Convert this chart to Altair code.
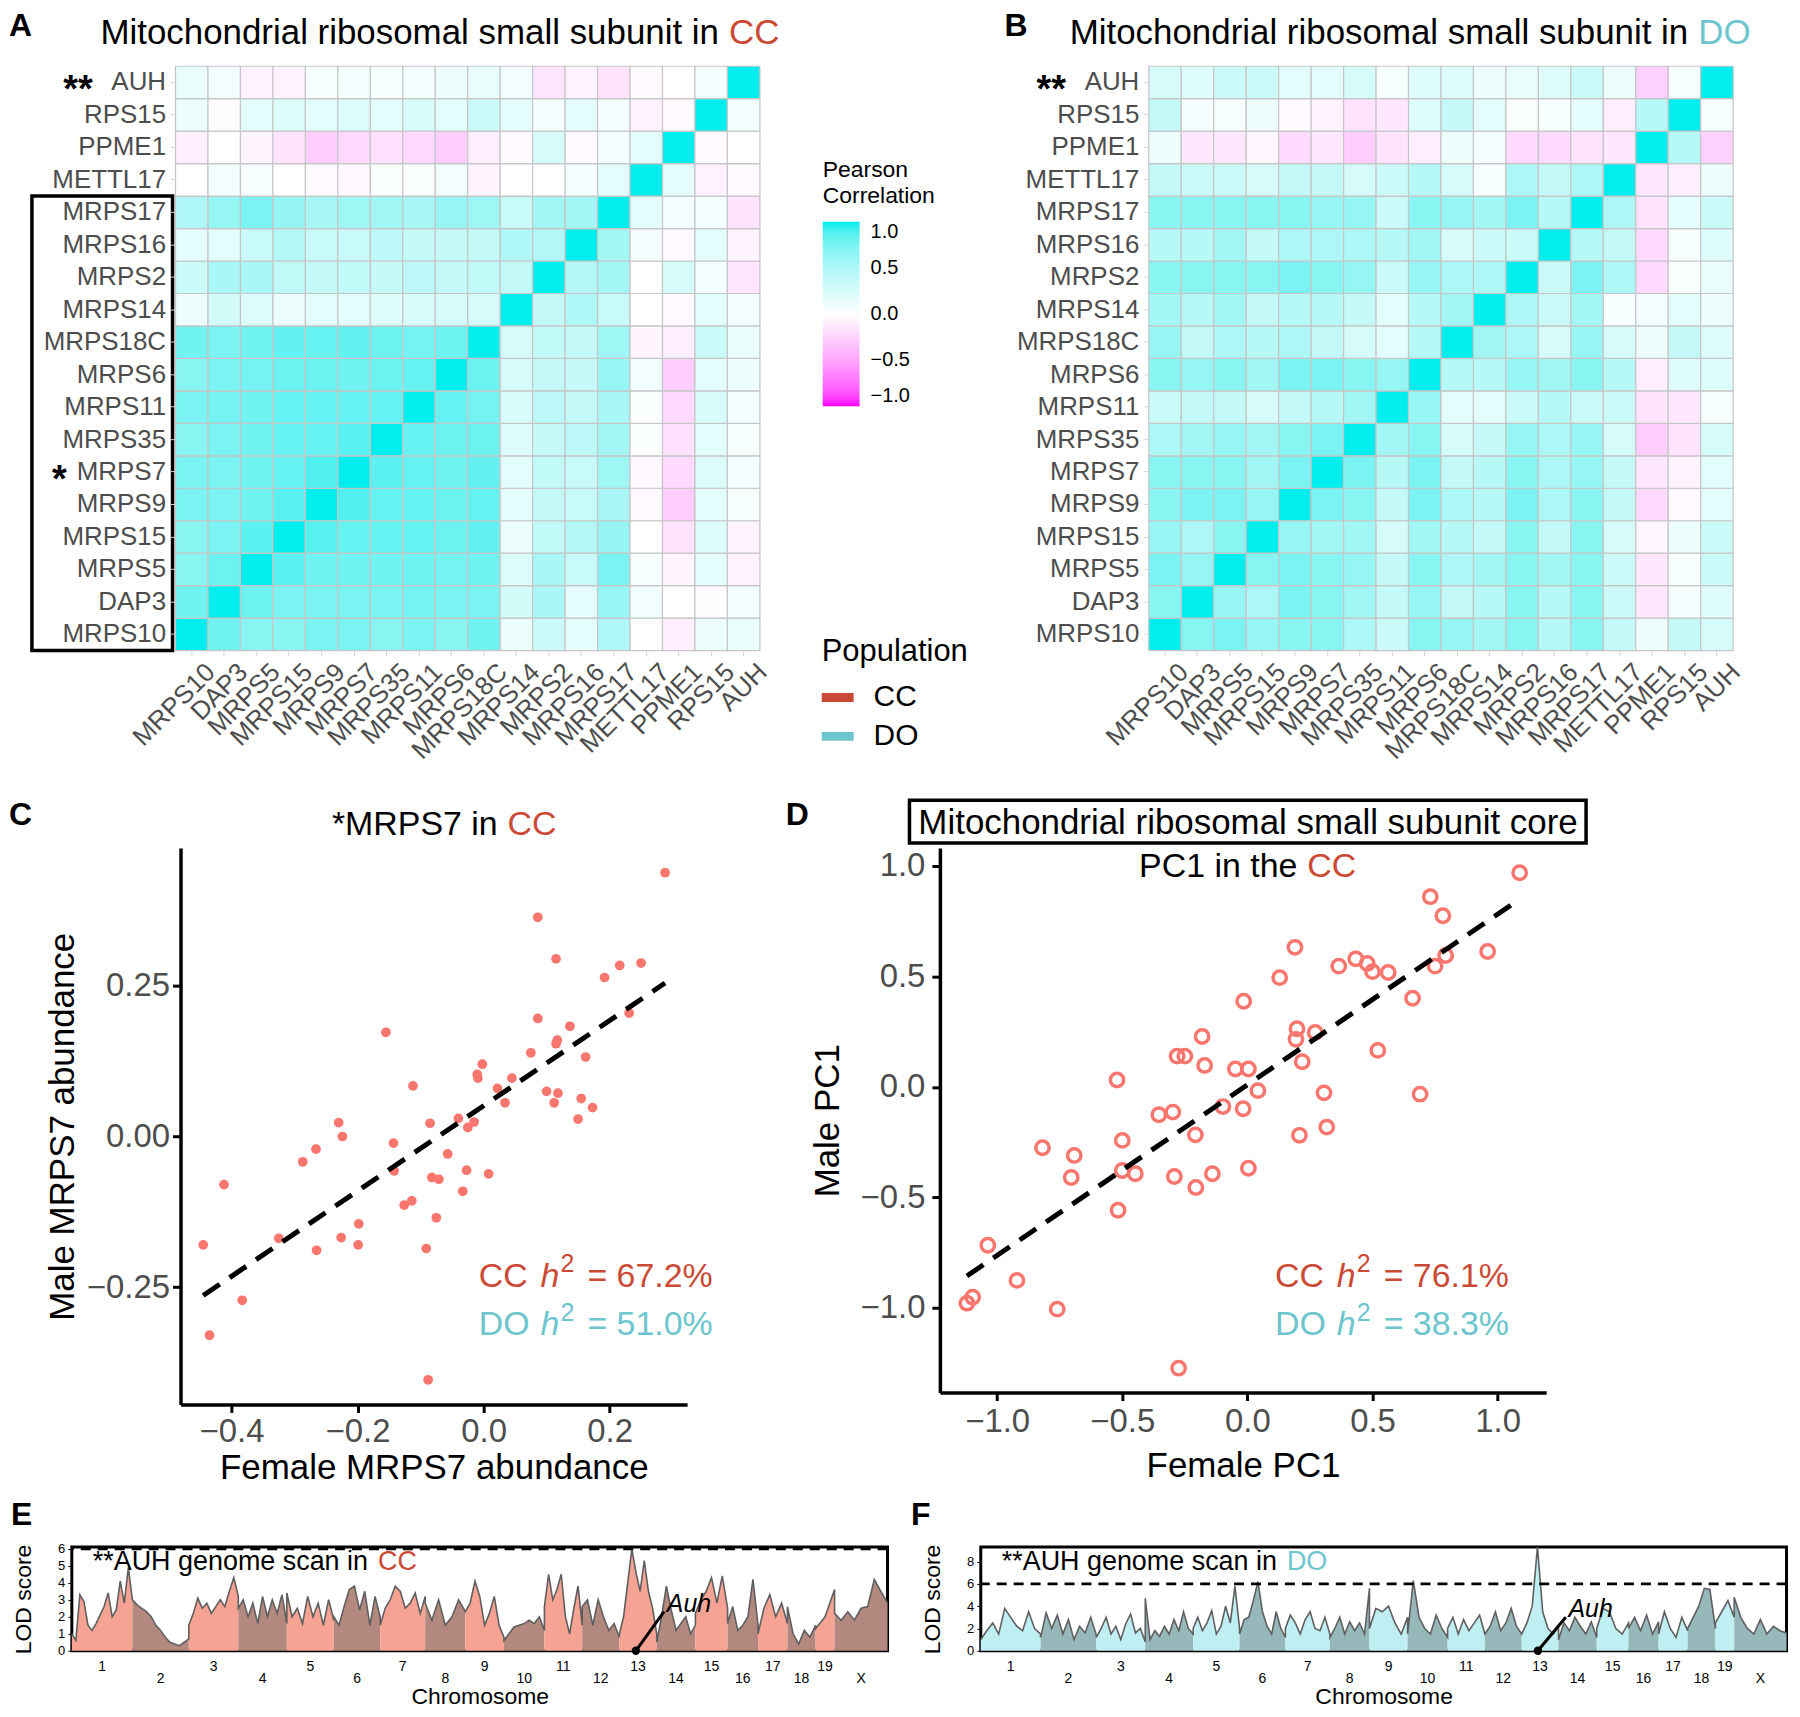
import altair as alt
import pandas as pd

FONT = "Liberation Sans"
GRAY = "#4D4D4D"
CC_COL = "#CB4A35"
DO_COL = "#6DC5CD"
PT_COL = "#F8766D"

# ---------------- heatmap data ----------------
genes = ["MRPS10", "DAP3", "MRPS5", "MRPS15", "MRPS9", "MRPS7", "MRPS35", "MRPS11",
         "MRPS6", "MRPS18C", "MRPS14", "MRPS2", "MRPS16", "MRPS17", "METTL17",
         "PPME1", "RPS15", "AUH"]
row_order = genes[::-1]

# lower triangle of the correlation matrix (row i, columns 0..i-1), CC population
cc_lower = [
    [],
    [0.78],
    [0.68, 0.80],
    [0.68, 0.74, 0.86],
    [0.74, 0.74, 0.78, 0.87],
    [0.74, 0.74, 0.78, 0.82, 0.89],
    [0.68, 0.74, 0.78, 0.82, 0.82, 0.86],
    [0.74, 0.77, 0.78, 0.82, 0.82, 0.82, 0.82],
    [0.68, 0.74, 0.77, 0.80, 0.80, 0.78, 0.80, 0.82],
    [0.78, 0.74, 0.78, 0.83, 0.82, 0.83, 0.80, 0.77, 0.80],
    [0.13, 0.29, 0.23, 0.13, 0.19, 0.19, 0.22, 0.25, 0.27, 0.27],
    [0.33, 0.52, 0.52, 0.40, 0.38, 0.39, 0.36, 0.42, 0.38, 0.39, 0.38],
    [0.17, 0.19, 0.35, 0.47, 0.35, 0.35, 0.42, 0.38, 0.36, 0.38, 0.49, 0.47],
    [0.49, 0.62, 0.74, 0.63, 0.53, 0.58, 0.56, 0.53, 0.62, 0.58, 0.35, 0.56, 0.56],
    [0.00, 0.09, 0.05, 0.00, -0.03, -0.04, 0.03, 0.03, 0.09, -0.06, 0.00, 0.00, 0.07, 0.19],
    [-0.09, 0.00, -0.06, -0.16, -0.28, -0.22, -0.17, -0.22, -0.28, -0.10, -0.03, 0.27, -0.03, 0.07, 0.17],
    [0.13, -0.02, 0.18, 0.23, 0.19, 0.23, 0.19, 0.25, 0.19, 0.33, 0.18, 0.07, 0.19, 0.07, -0.08, -0.03],
    [0.15, 0.09, -0.08, -0.07, 0.05, 0.07, 0.05, 0.09, 0.12, 0.15, 0.09, -0.15, -0.07, -0.16, -0.03, 0.00, 0.07],
]

# DO population
do_lower = [
    [],
    [0.68],
    [0.74, 0.62],
    [0.62, 0.50, 0.68],
    [0.68, 0.74, 0.74, 0.62],
    [0.68, 0.68, 0.68, 0.56, 0.74],
    [0.50, 0.56, 0.62, 0.56, 0.68, 0.74],
    [0.33, 0.38, 0.38, 0.27, 0.38, 0.45, 0.56],
    [0.68, 0.62, 0.68, 0.56, 0.74, 0.74, 0.68, 0.62],
    [0.62, 0.38, 0.50, 0.45, 0.50, 0.38, 0.27, 0.19, 0.45],
    [0.56, 0.45, 0.56, 0.38, 0.45, 0.45, 0.38, 0.19, 0.45, 0.56],
    [0.68, 0.68, 0.68, 0.68, 0.74, 0.68, 0.62, 0.33, 0.62, 0.50, 0.50],
    [0.45, 0.45, 0.56, 0.38, 0.50, 0.50, 0.50, 0.45, 0.56, 0.27, 0.33, 0.33],
    [0.68, 0.68, 0.68, 0.68, 0.68, 0.62, 0.62, 0.33, 0.68, 0.62, 0.56, 0.74, 0.45],
    [0.38, 0.33, 0.33, 0.27, 0.38, 0.38, 0.27, 0.33, 0.45, 0.27, 0.05, 0.50, 0.38, 0.50],
    [0.12, -0.13, -0.13, -0.05, -0.21, -0.13, -0.28, -0.16, -0.10, 0.12, 0.07, -0.21, -0.21, -0.16, -0.13],
    [0.38, 0.07, 0.05, 0.12, -0.03, -0.07, -0.16, -0.13, 0.22, 0.38, 0.19, 0.03, 0.05, 0.17, -0.10, 0.45],
    [0.27, 0.22, 0.33, 0.33, 0.19, 0.19, 0.27, 0.05, 0.22, 0.22, 0.12, 0.15, 0.22, 0.33, 0.12, -0.26, 0.05],
]

# ---------------- scatter data ----------------
c_female = [0.288, 0.086, 0.115, 0.192, 0.216, 0.25, 0.231, 0.086, 0.137, 0.117, 0.115, 0.075,
            0.162, -0.155, -0.002, -0.01, -0.009, -0.112, 0.045, 0.022, 0.1, 0.118, 0.034, 0.112,
            0.155, 0.173, 0.15, -0.04, -0.015, -0.025, -0.085, -0.23, -0.224, -0.266, -0.287, -0.143,
            -0.057, -0.142, -0.027, 0.008, -0.082, -0.071, -0.412, -0.033, -0.114, -0.126, -0.075, -0.198,
            -0.325, -0.226, -0.265, -0.199, -0.091, -0.445, -0.383, -0.435, -0.088]
c_male = [0.438, 0.364, 0.295, 0.264, 0.284, 0.288, 0.205, 0.196, 0.183, 0.160, 0.154, 0.139,
          0.132, 0.173, 0.120, 0.103, 0.097, 0.084, 0.097, 0.080, 0.075, 0.072, 0.056, 0.056,
          0.063, 0.048, 0.029, 0.030, 0.024, 0.015, 0.022, 0.023, 0.0, -0.021, -0.042, -0.011,
          -0.029, -0.057, -0.056, -0.062, -0.068, -0.071, -0.080, -0.091, -0.107, -0.114, -0.135, -0.145,
          -0.169, -0.168, -0.189, -0.180, -0.186, -0.180, -0.272, -0.330, -0.404]

d_female = [1.088, 0.731, 0.781, 0.960, 0.792, 0.75, 0.190, 0.365, 0.433, 0.479, 0.5, 0.5625,
            0.129, 0.660, -0.015, 0.198, 0.271, 0.194, 0.219, 0.521, -0.181, -0.281, -0.25, -0.171,
            -0.048, 0.004, 0.042, -0.521, -0.098, -0.017, 0.306, 0.690, -0.354, -0.298, -0.208, 0.208,
            0.317, -0.5, -0.819, -0.692, -0.704, -0.5, -0.448, -0.292, -0.206, -0.140, 0.004, -0.517,
            -1.0375, -0.921, -0.760, -1.098, -1.121, -0.275]
d_male = [0.968, 0.860, 0.774, 0.612, 0.594, 0.546, 0.631, 0.546, 0.579, 0.558, 0.521, 0.517,
          0.494, 0.401, 0.387, 0.263, 0.246, 0.215, 0.114, 0.165, 0.228, 0.139, 0.139, 0.097,
          0.081, 0.081, -0.017, 0.031, -0.089, -0.099, -0.027, -0.033, -0.126, -0.114, -0.217, -0.219,
          -0.182, -0.242, -0.275, -0.310, -0.410, -0.378, -0.393, -0.405, -0.455, -0.393, -0.368, -0.558,
          -0.716, -0.875, -1.005, -0.951, -0.978, -1.272]

# ---------------- genome scan data ----------------
chr_names = ["1", "2", "3", "4", "5", "6", "7", "8", "9", "10", "11", "12", "13", "14",
             "15", "16", "17", "18", "19", "X"]
chr_len = [195.5, 182.1, 160.0, 156.5, 151.8, 149.7, 145.4, 129.4, 124.6, 130.7, 122.1,
           120.1, 120.4, 124.9, 104.0, 98.2, 95.0, 90.7, 61.4, 171.0]

cc_lod_by_chr = [
    [1.0, 0.6, 3.3, 2.9, 1.5, 1.2, 1.6, 2.1, 2.6, 3.4, 2.0, 2.4, 4.1, 2.8, 4.9, 3.0],
    [3.0, 2.7, 2.5, 2.3, 2.0, 1.5, 1.2, 0.8, 0.5, 0.4, 0.3, 0.5, 0.7],
    [1.5, 2.2, 3.1, 2.5, 2.8, 2.2, 2.6, 3.0, 2.6, 3.5, 4.3, 3.2],
    [2.5, 3.0, 2.0, 2.8, 1.6, 3.2, 2.0, 3.0, 2.2, 3.3, 1.6],
    [3.4, 2.0, 2.5, 1.6, 3.2, 2.0, 2.8, 1.5, 3.0, 1.8],
    [2.0, 1.5, 2.6, 3.6, 3.8, 2.4, 3.5, 1.5, 3.2, 2.0],
    [1.5, 2.5, 3.0, 3.8, 3.5, 2.5, 2.8, 3.4, 2.2, 3.2],
    [2.8, 1.8, 3.0, 1.5, 2.0, 3.0, 2.3],
    [2.3, 2.8, 4.1, 3.2, 1.5, 2.2, 3.2, 1.5, 0.8],
    [0.6, 1.0, 1.4, 1.5, 1.6, 1.8, 1.6, 2.0, 1.2],
    [2.6, 4.5, 3.0, 3.6, 4.5, 2.0, 1.0, 2.5, 3.8, 1.5],
    [2.6, 3.0, 1.5, 3.0, 2.0, 1.2, 1.6, 0.8],
    [1.0, 2.0, 4.0, 6.0, 4.6, 3.5, 5.3, 3.5, 2.5, 1.0],
    [0.5, 2.0, 3.8, 2.4, 1.2, 1.6, 2.0, 1.0, 1.5],
    [2.2, 3.0, 3.5, 4.3, 2.8, 4.4, 2.5],
    [1.6, 2.6, 1.2, 1.5, 2.0, 4.2, 1.5],
    [1.0, 2.5, 3.3, 2.0, 2.8, 1.6],
    [2.6, 1.0, 0.4, 1.2, 0.8, 1.5],
    [1.3, 2.0, 3.6],
    [2.2, 1.8, 2.3, 1.8, 2.5, 2.6, 4.2, 3.5, 2.8],
]

do_lod_by_chr = [
    [1.0, 1.8, 2.5, 1.5, 3.8, 3.0, 2.2, 1.8, 3.5, 2.0, 1.5],
    [1.2, 3.4, 2.0, 3.2, 1.5, 2.8, 1.0, 2.2, 1.6, 3.0, 1.4],
    [1.2, 2.0, 3.0, 1.5, 2.2, 1.0, 2.4, 3.3, 1.6, 2.0, 0.8],
    [4.7, 1.0, 1.8, 1.3, 2.2, 1.5, 2.8, 1.8, 3.5, 2.0, 1.5],
    [2.0, 3.0, 1.8, 2.5, 3.6, 1.5, 2.2, 4.0, 2.5, 5.8, 2.0],
    [1.5, 2.8, 3.0, 4.5, 6.2, 3.5, 2.2, 1.5, 3.5, 2.0, 1.2],
    [2.0, 3.2, 2.5, 1.5, 2.8, 3.5, 2.0, 1.8, 3.0, 1.5],
    [1.2, 2.0, 3.0, 1.5, 2.6, 1.8, 2.5, 1.5, 5.6],
    [2.0, 3.8, 3.5, 4.0, 2.5, 1.5, 3.0],
    [1.5, 6.3, 3.0, 2.0, 1.5, 3.2, 2.0, 1.2],
    [2.0, 3.0, 1.5, 2.8, 1.8, 2.5, 3.2, 1.5],
    [1.5, 2.2, 3.5, 1.8, 2.5, 3.8, 2.2, 1.5],
    [1.5, 2.5, 4.0, 9.3, 3.5, 2.0, 1.5, 2.2],
    [1.0, 2.5, 1.8, 3.0, 2.2, 1.5, 2.6, 1.2],
    [2.0, 3.8, 3.5, 2.0, 1.5, 2.5],
    [2.0, 3.0, 1.8, 3.2, 1.5, 2.6],
    [1.5, 3.5, 2.0, 1.2, 3.0, 1.8],
    [2.0, 3.0, 4.0, 5.6, 5.5, 2.0],
    [2.5, 3.5, 4.5, 3.0],
    [4.8, 3.0, 2.0, 1.5, 2.8, 1.5, 2.2, 1.8, 1.6],
]
AUH_MB = 53.0

ONE = pd.DataFrame({"k": [0]})


def label(text, x, y, size, color="black", align="left", weight="normal", style="normal"):
    return alt.Chart(ONE).mark_text(
        text=text, align=align, baseline="alphabetic", fontSize=size, color=color,
        fontWeight=weight, fontStyle=style, font=FONT
    ).encode(x=alt.value(x), y=alt.value(y))


def spacer():
    return alt.Chart(ONE).mark_point(opacity=0, size=0).encode(
        x=alt.value(0), y=alt.value(0)).properties(width=1, height=1)


# ---------------- heatmaps ----------------
def heat_df(lower):
    recs = []
    n = len(genes)
    for i in range(n):
        for j in range(n):
            if i == j:
                v = 1.0
            elif j < i:
                v = lower[i][j]
            else:
                v = lower[j][i]
            recs.append({"row": genes[i], "col": genes[j], "r": v})
    return pd.DataFrame(recs)


HW = 586


def heatmap(lower, pop, pop_col, stars, letter_x, letter, title_x, with_legend, with_box):
    df = heat_df(lower)
    xax = alt.Axis(title=None, labelAngle=-45, labelAlign="right", labelBaseline="top",
                   labelFontSize=26, labelColor=GRAY, labelFont=FONT, domain=False,
                   tickColor="#D3D3D3", tickSize=5, labelPadding=3, labelOffset=10,
                   grid=False, labelOverlap=False)
    yax = alt.Axis(title=None, labelFontSize=26, labelColor=GRAY, labelFont=FONT, domain=False,
                   tickColor="#D3D3D3", tickSize=5, labelPadding=5, grid=False,
                   labelOverlap=False)
    xs = alt.Scale(domain=genes)
    ys = alt.Scale(domain=row_order)
    if with_legend:
        leg = alt.Legend(orient="none", legendX=649, legendY=93, direction="vertical",
                         title=["Pearson", "Correlation"], titleFont=FONT, titleFontSize=23,
                         titleFontWeight="normal", titleColor="black", titleLineHeight=26,
                         titlePadding=14, gradientLength=185, gradientThickness=37,
                         gradientStrokeWidth=0, values=[1, 0.5, 0, -0.5, -1], format=".1f",
                         labelFont=FONT, labelFontSize=20, labelColor="black", labelOffset=11,
                         labelBaseline="middle")
    else:
        leg = None
    rect = alt.Chart(df).mark_rect(stroke="#C6C6C6", strokeWidth=1.2).encode(
        x=alt.X("col:N", scale=xs, axis=xax),
        y=alt.Y("row:N", scale=ys, axis=yax),
        color=alt.Color("r:Q", scale=alt.Scale(domain=[-1, 0, 1],
                                               range=["#FF00FF", "#FFFFFF", "#00EEEE"],
                                               interpolate="lab"), legend=leg),
    )
    layers = [rect]
    for row, s, xpx in stars:
        layers.append(
            alt.Chart(pd.DataFrame({"row": [row]})).mark_text(
                text=s, align="right", baseline="middle", fontSize=38, fontWeight="bold",
                color="black", dy=9, font=FONT
            ).encode(y=alt.Y("row:N", scale=ys, axis=yax), x=alt.value(xpx))
        )
    if with_box:
        layers.append(
            alt.Chart(pd.DataFrame({"row": ["MRPS17"], "row2": ["MRPS10"]})).mark_rect(
                fill="white", fillOpacity=0, stroke="black", strokeWidth=3.5
            ).encode(
                y=alt.Y("row:N", scale=ys, axis=yax, bandPosition=0),
                y2=alt.Y2("row2", bandPosition=1),
                x=alt.value(-144), x2=alt.value(-3),
            )
        )
    if with_legend:
        layers.append(
            alt.Chart(pd.DataFrame({"pop": ["CC", "DO"]})).mark_point(
                filled=True, opacity=0, size=0
            ).encode(
                x=alt.value(700), y=alt.value(600),
                fill=alt.Fill("pop:N", scale=alt.Scale(domain=["CC", "DO"], range=[CC_COL, DO_COL]),
                              legend=alt.Legend(orient="none", legendX=648, legendY=572,
                                                title="Population", titleFont=FONT, titleFontSize=31,
                                                titleFontWeight="normal", titleColor="black",
                                                titlePadding=14,
                                                symbolType="M-1,-0.28L1,-0.28L1,0.28L-1,0.28Z",
                                                symbolSize=1024, symbolOpacity=1, symbolStrokeWidth=0,
                                                labelFont=FONT, labelFontSize=30, labelColor="black",
                                                labelOffset=20, rowPadding=8))
            )
        )
    layers += [
        label(letter, letter_x, -30, 32, weight="bold"),
        label("Mitochondrial ribosomal small subunit in", title_x, -22.7, 35, align="right"),
        label(pop, title_x + 10, -22.7, 35, color=pop_col),
    ]
    return alt.layer(*layers).properties(width=HW, height=HW)


chart_a = heatmap(cc_lower, "CC", CC_COL, [("AUH", "**", -83), ("MRPS7", "*", -109)],
                  -167, "A", 545, True, True)
chart_b = heatmap(do_lower, "DO", DO_COL, [("AUH", "**", -83)], -144.6, "B", 541, False, False)

# ---------------- scatter plots ----------------
AX = dict(domainColor="black", domainWidth=3.5, tickColor="black", tickWidth=3, tickSize=8,
          labelColor=GRAY, labelFontSize=33, labelFont=FONT, titleFontSize=35, titleFont=FONT,
          titleColor="black", titleFontWeight="normal", grid=False)


def h2_text(a, pop, val, col, ybase):
    return [
        label(pop, a, ybase, 34, color=col),
        label("h", a + 62, ybase, 34, color=col, style="italic"),
        label("2", a + 82, ybase - 15, 25, color=col),
        label("= " + val, a + 109, ybase, 34, color=col),
    ]


c_df = pd.DataFrame({"f": c_female, "m": c_male})
cx = alt.X("f:Q", scale=alt.Scale(domain=[-0.481, 0.323], nice=False, zero=False),
           axis=alt.Axis(values=[-0.4, -0.2, 0, 0.2], format=".1f", title="Female MRPS7 abundance",
                         titlePadding=2, labelPadding=3, **AX))
cy = alt.Y("m:Q", scale=alt.Scale(domain=[-0.445, 0.479], nice=False, zero=False),
           axis=alt.Axis(values=[-0.25, 0, 0.25], format=".2f", title="Male MRPS7 abundance",
                         titlePadding=6, labelPadding=3, **AX))
c_layers = [
    alt.Chart(c_df).mark_circle(size=95, color=PT_COL, opacity=1).encode(x=cx, y=cy),
    alt.Chart(c_df).transform_regression("f", "m").mark_line(
        color="black", strokeWidth=5, strokeDash=[20, 12]).encode(x=cx, y=cy),
    label("C", -172, -23, 32, weight="bold"),
    label("*MRPS7 in", 318, -13, 34, align="right"),
    label("CC", 328, -13, 34, color=CC_COL),
]
c_layers += h2_text(299, "CC", "67.2%", CC_COL, 439.7)
c_layers += h2_text(299, "DO", "51.0%", DO_COL, 488.8)
chart_c = alt.layer(*c_layers).properties(width=508, height=558)

d_df = pd.DataFrame({"f": d_female, "m": d_male})
dx = alt.X("f:Q", scale=alt.Scale(domain=[-1.229, 1.194], nice=False, zero=False),
           axis=alt.Axis(values=[-1, -0.5, 0, 0.5, 1], format=".1f", title="Female PC1",
                         titlePadding=10, labelPadding=5, **AX))
dy = alt.Y("m:Q", scale=alt.Scale(domain=[-1.382, 1.08], nice=False, zero=False),
           axis=alt.Axis(values=[-1, -0.5, 0, 0.5, 1], format=".1f", title="Male PC1",
                         titlePadding=15, labelPadding=7, **AX))
d_layers = [
    alt.Chart(d_df).mark_point(shape="circle", filled=False, size=180, strokeWidth=3.5,
                               color=PT_COL, opacity=1).encode(x=dx, y=dy),
    alt.Chart(d_df).transform_regression("f", "m").mark_line(
        color="black", strokeWidth=5, strokeDash=[20, 12]).encode(x=dx, y=dy),
    label("D", -154.5, -23, 32, weight="bold"),
    alt.Chart(ONE).mark_rect(fill="white", fillOpacity=0, stroke="black", strokeWidth=3.5).encode(
        x=alt.value(-30.5), x2=alt.value(648), y=alt.value(-48), y2=alt.value(-5)),
    label("Mitochondrial ribosomal small subunit core", 309, -14.5, 35, align="center"),
    label("PC1 in the", 358.5, 28.8, 34, align="right"),
    label("CC", 368.5, 28.8, 34, color=CC_COL),
]
d_layers += h2_text(336, "CC", "76.1%", CC_COL, 439.7)
d_layers += h2_text(336, "DO", "38.3%", DO_COL, 488.8)
chart_d = alt.layer(*d_layers).properties(width=608, height=546)


# ---------------- genome scans ----------------
def genome(lod_by_chr, odd_col, even_col, ydom, yvals, pop, pop_col, auh_y, letter, letter_x, w, h):
    recs, centers = [], []
    start = 0.0
    for k, (nm, L) in enumerate(zip(chr_names, chr_len)):
        vals = lod_by_chr[k]
        n = len(vals)
        par = "odd" if k % 2 == 0 else "even"
        for i, v in enumerate(vals):
            recs.append({"pos": start + L * i / (n - 1), "lod": v, "chr": nm, "par": par})
        centers.append({"pos": start + L / 2, "name": nm, "par": par})
        start += L
    total = start
    df = pd.DataFrame(recs)
    cdf = pd.DataFrame(centers)
    auh_pos = sum(chr_len[:12]) + AUH_MB
    xs = alt.Scale(domain=[0, total], nice=False, zero=False)
    xax = alt.Axis(labels=False, ticks=False, domain=False, grid=False, title="Chromosome",
                   titleFont=FONT, titleFontSize=23, titleFontWeight="normal", titleColor="black",
                   titlePadding=35)
    ys = alt.Scale(domain=ydom, nice=False, zero=False)
    yax = alt.Axis(values=yvals, grid=False, domain=False, tickColor="black", tickSize=4,
                   labelFont=FONT, labelFontSize=13, labelColor="black", labelPadding=3,
                   title="LOD score", titleFont=FONT, titleFontSize=23, titleFontWeight="normal",
                   titleColor="black", titlePadding=22)

    def X(f):
        return alt.X(f, scale=xs, axis=xax)

    def Y(f):
        return alt.Y(f, scale=ys, axis=yax, stack=None)

    auh_df = pd.DataFrame({"p1": [auh_pos], "l1": [0.0], "p2": [auh_pos + 91], "l2": [auh_y],
                           "p3": [auh_pos + 100]})
    layers = [
        alt.Chart(df).mark_area(opacity=1).encode(
            x=X("pos:Q"), y=Y("lod:Q"), detail="chr:N",
            color=alt.Color("par:N", scale=alt.Scale(domain=["odd", "even"], range=[odd_col, even_col]),
                            legend=None)),
        alt.Chart(df).mark_line(color="#5F5F5F", strokeWidth=1.6).encode(x=X("pos:Q"), y=Y("lod:Q")),
        alt.Chart(pd.DataFrame({"t": [6.0]})).mark_rule(color="black", strokeWidth=3,
                                                        strokeDash=[10, 7]).encode(y=Y("t:Q")),
        alt.Chart(auh_df).mark_rule(color="black", strokeWidth=3).encode(
            x=X("p1:Q"), y=Y("l1:Q"), x2="p2:Q", y2="l2:Q"),
        alt.Chart(auh_df).mark_circle(color="black", size=70, opacity=1).encode(x=X("p1:Q"), y=Y("l1:Q")),
        alt.Chart(auh_df).mark_text(text="Auh", fontStyle="italic", fontSize=25, align="left",
                                    baseline="alphabetic", font=FONT, color="black").encode(
            x=X("p3:Q"), y=Y("l2:Q")),
        alt.Chart(cdf[cdf.par == "odd"]).mark_text(fontSize=14, font=FONT, baseline="middle",
                                                   color="black").encode(
            x=X("pos:Q"), y=alt.value(h + 16), text="name:N"),
        alt.Chart(cdf[cdf.par == "even"]).mark_text(fontSize=14, font=FONT, baseline="middle",
                                                    color="black").encode(
            x=X("pos:Q"), y=alt.value(h + 28), text="name:N"),
        label("**AUH genome scan in", 297, 23, 27, align="right"),
        label(pop, 307, 23, 27, color=pop_col),
        label(letter, letter_x, -22, 32, weight="bold"),
    ]
    return alt.layer(*layers).properties(
        width=w, height=h, view=alt.ViewBackground(stroke="black", strokeWidth=3))


chart_e = genome(cc_lod_by_chr, "#F7A393", "#B3897F", [0, 6.1], [0, 1, 2, 3, 4, 5, 6],
                 "CC", CC_COL, 2.3, "E", -61, 818, 104)
chart_f = genome(do_lod_by_chr, "#BFEFF3", "#96B8BA", [0, 9.3], [0, 2, 4, 6, 8],
                 "DO", DO_COL, 3.0, "F", -70, 808, 104)

pair1 = alt.hconcat(chart_a, chart_b, spacing=36).resolve_scale(color="independent", fill="independent")
pair2 = alt.hconcat(chart_c, chart_d, spacing=72.5)
pair3 = alt.hconcat(chart_e, chart_f, spacing=16.5).resolve_scale(color="independent")

row1 = alt.hconcat(spacer(), pair1, spacing=0).resolve_scale(color="independent", fill="independent")
row2 = alt.hconcat(spacer(), pair2, spacing=0)
row3 = alt.hconcat(spacer(), pair3, spacing=0).resolve_scale(color="independent")

bottom = alt.vconcat(row2, row3, spacing=12).resolve_scale(color="independent")
chart = alt.vconcat(row1, bottom, spacing=34).resolve_scale(
    color="independent", fill="independent"
).properties(
    padding={"left": 0, "top": 0, "right": 0, "bottom": 0}
).configure(font=FONT).configure_view(strokeWidth=0)

chart.save("out.html", embed_options={"renderer": "svg", "actions": False})
